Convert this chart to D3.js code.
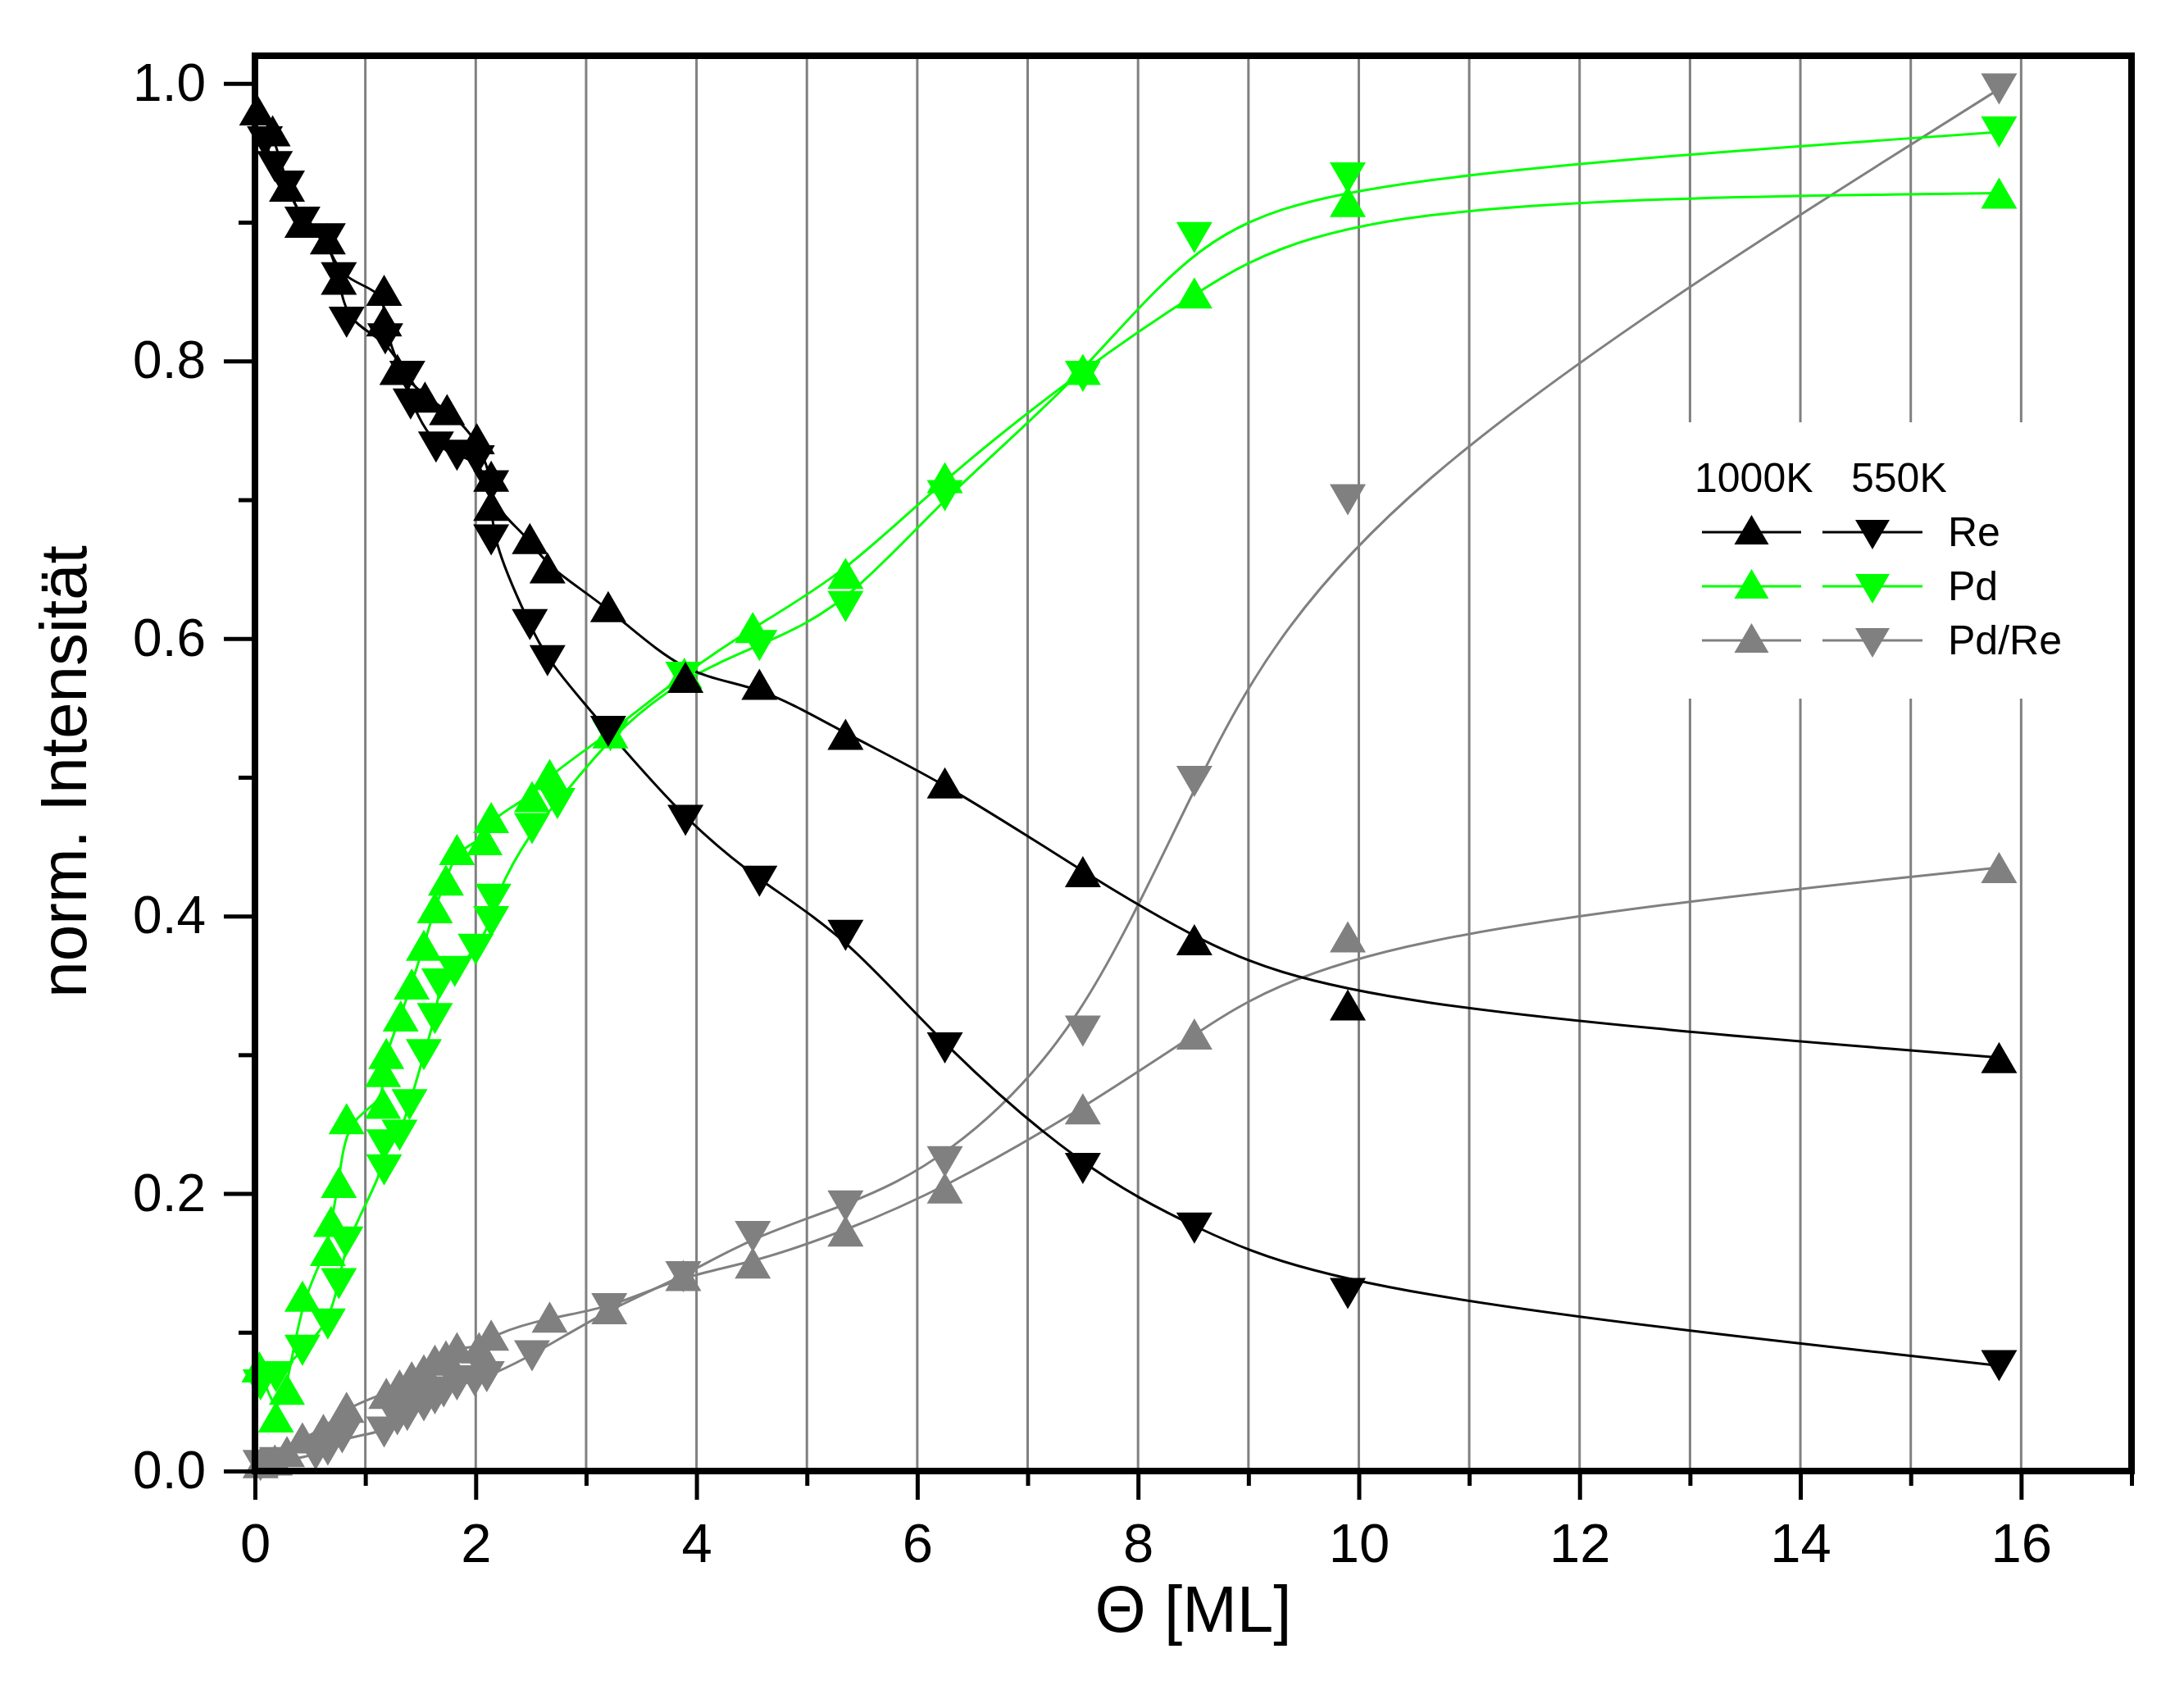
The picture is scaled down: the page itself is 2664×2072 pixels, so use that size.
<!DOCTYPE html>
<html>
<head>
<meta charset="utf-8">
<script src="https://cdn.jsdelivr.net/npm/d3@7"></script>
<style>
  html, body { margin: 0; padding: 0; background: #fff; }
  svg { display: block; font-family: "Liberation Sans", Arial, sans-serif; }
</style>
</head>
<body>
<div class="visHolder"></div>
<script>
// coverage values, [theta ML, norm. intensity]
const re1000 = [[0.02,0.981],[0.16,0.966],[0.29,0.926],[0.43,0.900],[0.66,0.888],[0.76,0.859],[1.17,0.851],[1.17,0.829],[1.29,0.794],[1.54,0.774],[1.74,0.765],[2.01,0.744],[2.14,0.717],[2.14,0.696],[2.49,0.672],[2.65,0.651],[3.20,0.623],[3.90,0.572],[4.57,0.567],[5.35,0.531],[6.25,0.496],[7.50,0.432],[8.51,0.383],[9.90,0.336],[15.80,0.298]];
const re550 = [[0.09,0.958],[0.18,0.940],[0.29,0.926],[0.43,0.900],[0.66,0.888],[0.76,0.860],[0.83,0.828],[1.18,0.816],[1.38,0.789],[1.41,0.769],[1.64,0.738],[1.83,0.732],[2.01,0.728],[2.14,0.710],[2.14,0.671],[2.49,0.610],[2.65,0.584],[3.20,0.533],[3.90,0.469],[4.57,0.425],[5.35,0.386],[6.25,0.305],[7.50,0.218],[8.51,0.175],[9.90,0.128],[15.80,0.076]];
const pd1000 = [[0.04,0.075],[0.19,0.039],[0.29,0.059],[0.43,0.126],[0.66,0.159],[0.69,0.180],[0.76,0.208],[0.83,0.254],[1.16,0.265],[1.16,0.288],[1.19,0.301],[1.32,0.328],[1.42,0.351],[1.53,0.379],[1.63,0.406],[1.73,0.426],[1.83,0.448],[2.08,0.455],[2.14,0.471],[2.51,0.486],[2.67,0.502],[3.22,0.532],[3.89,0.575],[4.51,0.608],[5.35,0.647],[6.25,0.716],[7.50,0.794],[8.51,0.849],[9.90,0.915],[15.80,0.921]];
const pd550 = [[0.05,0.062],[0.19,0.068],[0.43,0.087],[0.66,0.106],[0.76,0.135],[0.82,0.165],[1.17,0.217],[1.17,0.235],[1.31,0.242],[1.40,0.264],[1.53,0.300],[1.63,0.326],[1.67,0.351],[1.81,0.360],[2.00,0.376],[2.14,0.396],[2.16,0.412],[2.51,0.463],[2.74,0.481],[3.22,0.530],[3.88,0.572],[4.57,0.595],[5.35,0.623],[6.25,0.703],[7.50,0.789],[8.51,0.889],[9.90,0.932],[15.80,0.965]];
const pdre1000 = [[0.05,0.006],[0.18,0.008],[0.29,0.014],[0.43,0.024],[0.62,0.030],[0.83,0.046],[1.19,0.056],[1.31,0.062],[1.42,0.068],[1.53,0.073],[1.63,0.080],[1.73,0.083],[1.83,0.089],[2.03,0.089],[2.14,0.098],[2.67,0.111],[3.21,0.117],[3.88,0.141],[4.51,0.150],[5.35,0.173],[6.25,0.204],[7.50,0.261],[8.51,0.315],[9.90,0.385],[15.80,0.435]];
const pdre550 = [[0.05,0.004],[0.20,0.006],[0.55,0.012],[0.66,0.015],[0.79,0.024],[1.17,0.028],[1.29,0.037],[1.38,0.040],[1.53,0.047],[1.63,0.052],[1.71,0.057],[1.83,0.062],[1.99,0.065],[2.10,0.068],[2.51,0.083],[3.21,0.117],[3.88,0.140],[4.51,0.169],[5.35,0.191],[6.25,0.223],[7.50,0.317],[8.51,0.497],[9.90,0.700],[15.80,0.996]];

const xMajor = [0, 2, 4, 6, 8, 10, 12, 14, 16];
const xMinor = [1, 3, 5, 7, 9, 11, 13, 15, 17];
const xGrid = d3.range(1, 17);
const yMajor = [0, 0.2, 0.4, 0.6, 0.8, 1.0];
const yMinor = [0.1, 0.3, 0.5, 0.7, 0.9];
const legendRows = ['Re', 'Pd', 'Pd/Re'];
const legendCols = ['1000K', '550K'];

const w = 2664, h = 2072;
const pLeft = 311, pRight = 2600, pTop = 68, pBottom = 1794;

const svg = d3.select('.visHolder')
  .append('svg')
  .attr('width', w)
  .attr('height', h)
  .attr('viewBox', `0 0 ${w} ${h}`);

svg.append('rect').attr('width', w).attr('height', h).attr('fill', '#fff');

const xScale = d3.scaleLinear().domain([0, 17]).range([pLeft, pRight]);
const yScale = d3.scaleLinear().domain([0, 1.02]).range([pBottom, pTop]);

// vertical grid
svg.append('g')
  .selectAll('line')
  .data(xGrid)
  .enter()
  .append('line')
  .attr('x1', d => xScale(d)).attr('x2', d => xScale(d))
  .attr('y1', pTop).attr('y2', pBottom)
  .attr('stroke', '#808080')
  .attr('stroke-width', 3);

// legend background hides the grid
svg.append('rect')
  .attr('x', 2040).attr('y', 515)
  .attr('width', 520).attr('height', 337)
  .attr('fill', '#fff');

const tri = (up, tw, th) => {
  const a = th / 2, b = tw / 2;
  return up ? `M0,${-a}L${b},${a}L${-b},${a}Z` : `M0,${a}L${b},${-a}L${-b},${-a}Z`;
};

const line = d3.line()
  .x(d => xScale(d[0]))
  .y(d => yScale(d[1]))
  .curve(d3.curveBasis);

const series = [
  {data: pdre1000, color: '#808080', up: true},
  {data: pdre550, color: '#808080', up: false},
  {data: pd1000, color: '#00ff00', up: true},
  {data: pd550, color: '#00ff00', up: false},
  {data: re1000, color: '#000000', up: true},
  {data: re550, color: '#000000', up: false}
];

const plot = svg.append('g');
series.forEach(s => {
  plot.append('path')
    .datum(s.data)
    .attr('fill', 'none')
    .attr('stroke', s.color)
    .attr('stroke-width', 3)
    .attr('d', line);
});
series.forEach(s => {
  plot.append('g')
    .selectAll('path')
    .data(s.data)
    .enter()
    .append('path')
    .attr('transform', d => `translate(${xScale(d[0])},${yScale(d[1])})`)
    .attr('d', tri(s.up, 44, 38))
    .attr('fill', s.color);
});

// axes
const xAxisMajor = d3.axisBottom(xScale).tickValues(xMajor).tickSize(35).tickPadding(28).tickFormat(d3.format('d'));
const xAxisMinor = d3.axisBottom(xScale).tickValues(xMinor).tickSize(18).tickFormat('');
const yAxisMajor = d3.axisLeft(yScale).tickValues(yMajor).tickSize(38).tickPadding(22).tickFormat(d3.format('.1f'));
const yAxisMinor = d3.axisLeft(yScale).tickValues(yMinor).tickSize(20).tickFormat('');

[xAxisMajor, xAxisMinor].forEach(a => {
  svg.append('g')
    .attr('class', 'x-axis')
    .attr('transform', `translate(0, ${pBottom})`)
    .call(a);
});
[yAxisMajor, yAxisMinor].forEach(a => {
  svg.append('g')
    .attr('class', 'y-axis')
    .attr('transform', `translate(${pLeft}, 0)`)
    .call(a);
});
svg.selectAll('.x-axis .domain, .y-axis .domain').remove();
svg.selectAll('.x-axis line, .y-axis line').attr('stroke', '#000').attr('stroke-width', 5);
svg.selectAll('.x-axis text').attr('font-size', 67).attr('fill', '#000').attr('font-family', 'Liberation Sans, Arial, sans-serif');
svg.selectAll('.y-axis text').attr('font-size', 64).attr('fill', '#000').attr('font-family', 'Liberation Sans, Arial, sans-serif');

// frame
svg.append('rect')
  .attr('x', pLeft).attr('y', pTop)
  .attr('width', pRight - pLeft).attr('height', pBottom - pTop)
  .attr('fill', 'none')
  .attr('stroke', '#000')
  .attr('stroke-width', 8);

// titles
svg.append('text')
  .attr('x', (pLeft + pRight) / 2)
  .attr('y', 1990)
  .attr('text-anchor', 'middle')
  .attr('font-size', 80)
  .text('Θ [ML]');

svg.append('text')
  .attr('transform', `translate(105, ${(pTop + pBottom) / 2 + 10}) rotate(-90)`)
  .attr('text-anchor', 'middle')
  .attr('font-size', 80)
  .text('norm. Intensität');

// legend
const legend = svg.append('g');
legend.selectAll('.col-title')
  .data(legendCols)
  .enter()
  .append('text')
  .attr('x', (d, i) => i === 0 ? 2067 : 2258)
  .attr('y', 600)
  .attr('font-size', 50)
  .text(d => d);

const legendColors = ['#000000', '#00ff00', '#808080'];
legendRows.forEach((r, i) => {
  const yy = 649 + i * 66;
  [[2076, 2197, true], [2223, 2345, false]].forEach(([x1, x2, up]) => {
    legend.append('line')
      .attr('x1', x1).attr('x2', x2)
      .attr('y1', yy).attr('y2', yy)
      .attr('stroke', legendColors[i])
      .attr('stroke-width', 3);
    legend.append('path')
      .attr('transform', `translate(${(x1 + x2) / 2},${yy + (up ? -3 : 3)})`)
      .attr('d', tri(up, 42, 36))
      .attr('fill', legendColors[i]);
  });
  legend.append('text')
    .attr('x', 2376)
    .attr('y', yy + 17)
    .attr('font-size', 50)
    .text(r);
});
</script>
</body>
</html>
